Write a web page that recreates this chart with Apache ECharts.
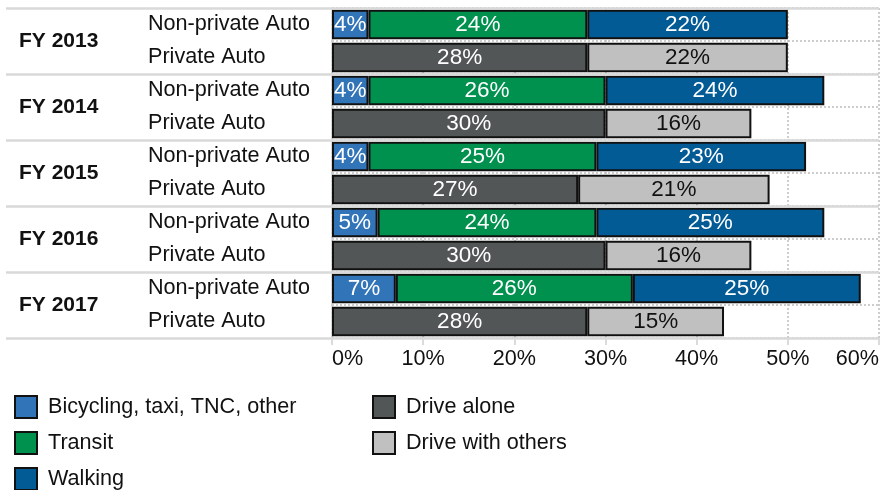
<!DOCTYPE html>
<html>
<head>
<meta charset="utf-8">
<script src="https://cdn.jsdelivr.net/npm/echarts@6/dist/echarts.min.js"></script>
<style>
  html, body { margin: 0; padding: 0; background: #fff; }
  #chart { width: 885px; height: 490px; }
</style>
</head>
<body>
<div id="chart"></div>
<script>
// Commute mode share by fiscal year, split into non-private and private auto trips
const years = ['FY 2013', 'FY 2014', 'FY 2015', 'FY 2016', 'FY 2017'];
const groups = ['Non-private Auto', 'Private Auto'];

// Shares in percent, one entry per fiscal year
const bicycling = [4, 4, 4, 5, 7];
const transit = [24, 26, 25, 24, 26];
const walking = [22, 24, 23, 25, 25];
const driveAlone = [28, 30, 27, 30, 28];
const driveWithOthers = [22, 16, 21, 16, 15];

const xTicks = { min: 0, max: 60, interval: 10 };

const FONT = '"Liberation Sans", Arial, sans-serif';
const TEXT_SIZE = 21.6;

// Rows alternate: Non-private Auto then Private Auto within each year
const rows = [];
years.forEach(() => groups.forEach(g => rows.push(g)));

function onRow(values, groupIdx) {
  const out = [];
  values.forEach(v => {
    groups.forEach((g, i) => out.push(i === groupIdx ? v : '-'));
  });
  return out;
}

function barSeries(name, values, groupIdx, color, labelColor) {
  return {
    name: name,
    type: 'bar',
    stack: 'share',
    yAxisIndex: 0,
    barCategoryGap: '11%',
    data: onRow(values, groupIdx),
    itemStyle: { color: color, borderColor: '#111', borderWidth: 2 },
    label: {
      show: true,
      position: 'inside',
      formatter: '{c}%',
      color: labelColor,
      fontFamily: FONT,
      fontSize: 22.5
    },
    emphasis: { disabled: true }
  };
}

const legendBase = {
  orient: 'vertical',
  top: 395,
  height: 110,
  padding: 0,
  itemWidth: 22,
  itemHeight: 22,
  itemGap: 12,
  icon: 'rect',
  selectedMode: false,
  textStyle: { color: '#111', fontFamily: FONT, fontSize: TEXT_SIZE, lineHeight: 22, padding: [0, 0, 0, 6] }
};

const chart = echarts.init(document.getElementById('chart'), null, { renderer: 'canvas' });

chart.setOption({
  animation: false,
  backgroundColor: '#fff',
  textStyle: { fontFamily: FONT },
  grid: { left: 332, right: 6, top: 8, bottom: 152, containLabel: false },
  xAxis: {
    type: 'value',
    min: xTicks.min,
    max: xTicks.max,
    interval: xTicks.interval,
    axisLine: { show: false },
    axisTick: { show: true, length: 7, lineStyle: { color: '#cfcfcf', width: 1.5 } },
    axisLabel: {
      formatter: '{value}%',
      color: '#111',
      fontFamily: FONT,
      fontSize: TEXT_SIZE,
      margin: 10,
      alignMinLabel: 'left',
      alignMaxLabel: 'right'
    },
    splitLine: { show: true, lineStyle: { color: '#bdbdbd', type: [2, 2], width: 1.5 } }
  },
  yAxis: [
    {
      type: 'category',
      data: rows,
      inverse: true,
      position: 'left',
      axisLine: { show: true, lineStyle: { color: '#d4d4d4', width: 1.5 } },
      axisTick: { show: false },
      axisLabel: {
        color: '#111',
        fontFamily: FONT,
        fontSize: TEXT_SIZE,
        align: 'left',
        margin: 184
      },
      splitLine: { show: true, lineStyle: { color: '#bdbdbd', type: [2, 2], width: 1.5 } }
    },
    {
      type: 'category',
      data: years,
      inverse: true,
      position: 'left',
      axisLine: { show: false },
      axisTick: { show: true, length: 326, lineStyle: { color: '#d9d9d9', width: 2.5 } },
      axisLabel: {
        color: '#111',
        fontFamily: FONT,
        fontSize: 21,
        fontWeight: 'bold',
        align: 'left',
        margin: 313
      },
      splitLine: { show: true, lineStyle: { color: '#d9d9d9', width: 2.5 } },
      z: 3
    }
  ],
  legend: [
    Object.assign({}, legendBase, {
      data: ['Bicycling, taxi, TNC, other', 'Transit', 'Walking'],
      left: 14
    }),
    Object.assign({}, legendBase, {
      data: ['Drive alone', 'Drive with others'],
      left: 372
    })
  ],
  series: [
    barSeries('Bicycling, taxi, TNC, other', bicycling, 0, '#3274b8', '#fff'),
    barSeries('Transit', transit, 0, '#00914f', '#fff'),
    barSeries('Walking', walking, 0, '#035b96', '#fff'),
    barSeries('Drive alone', driveAlone, 1, '#525657', '#fff'),
    barSeries('Drive with others', driveWithOthers, 1, '#bfc0bf', '#111')
  ]
});
</script>
</body>
</html>
